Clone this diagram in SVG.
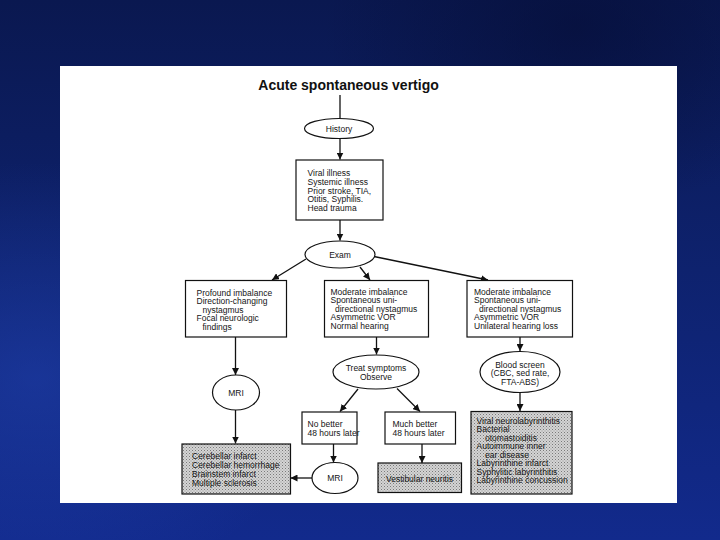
<svg xmlns="http://www.w3.org/2000/svg" width="720" height="540" viewBox="0 0 720 540">
<defs>
<linearGradient id="bg" x1="0" y1="0" x2="0" y2="1">
<stop offset="0" stop-color="#0a1850"/>
<stop offset="0.5" stop-color="#0e226e"/>
<stop offset="1" stop-color="#122a8c"/>
</linearGradient>
<radialGradient id="glow1" cx="0.05" cy="0.7" r="0.4">
<stop offset="0" stop-color="#2244b4" stop-opacity="0.5"/>
<stop offset="1" stop-color="#2244b4" stop-opacity="0"/>
</radialGradient>
<radialGradient id="glow2" cx="0.8" cy="0.05" r="0.35">
<stop offset="0" stop-color="#050d35" stop-opacity="0.6"/>
<stop offset="1" stop-color="#050d35" stop-opacity="0"/>
</radialGradient>
<pattern id="stip" width="3" height="3" patternUnits="userSpaceOnUse">
<rect width="3" height="3" fill="#d4d4d4"/>
<rect x="0" y="0" width="1" height="1" fill="#7a7a7a"/>
<rect x="1.5" y="1.5" width="1" height="1" fill="#959595"/>
</pattern>
<marker id="ah" viewBox="0 0 10 10" refX="10" refY="5" markerWidth="7" markerHeight="7" markerUnits="userSpaceOnUse" orient="auto">
<path d="M0,0 L10,5 L0,10 Z" fill="#111"/>
</marker>
</defs>
<style>
.box{fill:#fff;stroke:#111;stroke-width:1.2}
.sbox{fill:url(#stip);stroke:#111;stroke-width:1.2}
.ell{fill:#fff;stroke:#111;stroke-width:1.2}
.t{font-family:"Liberation Sans",Arial,sans-serif;font-size:8.5px;fill:#151515}
.c{text-anchor:middle}
.ln{stroke:#111;stroke-width:1.3;fill:none}
.ar{stroke:#111;stroke-width:1.3;fill:none;marker-end:url(#ah)}
</style>
<rect width="720" height="540" fill="url(#bg)"/>
<rect width="720" height="540" fill="url(#glow1)"/>
<rect width="720" height="540" fill="url(#glow2)"/>
<rect x="60" y="66" width="617" height="437" fill="#fff"/>

<text x="348.5" y="90" text-anchor="middle" font-family="'Liberation Sans',Arial,sans-serif" font-weight="bold" font-size="14" fill="#111">Acute spontaneous vertigo</text>

<g id="connectors">
<line class="ln" x1="340" y1="95" x2="340" y2="118.5"/>
<line class="ar" x1="340" y1="139" x2="340" y2="159.5"/>
<line class="ar" x1="340" y1="220" x2="340" y2="240.5"/>
<line class="ar" x1="306" y1="259" x2="272" y2="280"/>
<line class="ar" x1="360" y1="267" x2="370" y2="280"/>
<line class="ar" x1="374" y1="256.5" x2="488" y2="280"/>
<line class="ar" x1="235.5" y1="337" x2="235.5" y2="375"/>
<line class="ar" x1="235.5" y1="410" x2="235.5" y2="443.5"/>
<line class="ar" x1="376.5" y1="337" x2="376.5" y2="354.5"/>
<line class="ar" x1="520" y1="337" x2="520" y2="351"/>
<line class="ar" x1="520" y1="393" x2="520" y2="411"/>
<line class="ar" x1="358" y1="389" x2="340" y2="411.5"/>
<line class="ar" x1="397" y1="388.5" x2="420" y2="411.5"/>
<line class="ar" x1="333.5" y1="444" x2="333.5" y2="462.5"/>
<line class="ar" x1="422" y1="444" x2="422" y2="463"/>
<line class="ar" x1="312" y1="478" x2="290.5" y2="478"/>
</g>

<g id="history">
<ellipse class="ell" cx="339" cy="128.5" rx="34.5" ry="10"/>
<text class="t c" x="339" y="131.5">History</text>
</g>

<g id="causes">
<rect class="box" x="296" y="160" width="87" height="60"/>
<text class="t" x="307.5" y="176.3">Viral illness</text>
<text class="t" x="307.5" y="184.9">Systemic illness</text>
<text class="t" x="307.5" y="193.5">Prior stroke, TIA,</text>
<text class="t" x="307.5" y="202.1">Otitis, Syphilis.</text>
<text class="t" x="307.5" y="210.7">Head trauma</text>
</g>

<g id="exam">
<ellipse class="ell" cx="340" cy="254.5" rx="35" ry="13.5"/>
<text class="t c" x="340" y="257.5">Exam</text>
</g>

<g id="profound">
<rect class="box" x="185.5" y="280.5" width="101" height="56.5"/>
<text class="t" x="196.5" y="295.5">Profound imbalance</text>
<text class="t" x="196.5" y="304.1">Direction-changing</text>
<text class="t" x="202.5" y="312.7">nystagmus</text>
<text class="t" x="196.5" y="321.3">Focal neurologic</text>
<text class="t" x="202.5" y="329.9">findings</text>
</g>

<g id="moderate-normal">
<rect class="box" x="324.5" y="280.5" width="104" height="56.5"/>
<text class="t" x="330.5" y="294.5">Moderate imbalance</text>
<text class="t" x="330.5" y="303.1">Spontaneous uni-</text>
<text class="t" x="335" y="311.7">directional nystagmus</text>
<text class="t" x="330.5" y="320.3">Asymmetric VOR</text>
<text class="t" x="330.5" y="328.9">Normal hearing</text>
</g>

<g id="moderate-loss">
<rect class="box" x="467" y="280.5" width="105.5" height="56.5"/>
<text class="t" x="474" y="294.5">Moderate imbalance</text>
<text class="t" x="474" y="303.1">Spontaneous uni-</text>
<text class="t" x="479" y="311.7">directional nystagmus</text>
<text class="t" x="474" y="320.3">Asymmetric VOR</text>
<text class="t" x="474" y="328.9">Unilateral hearing loss</text>
</g>

<g id="mri1">
<ellipse class="ell" cx="236" cy="392.5" rx="23.5" ry="17.5"/>
<text class="t c" x="236" y="395.5">MRI</text>
</g>

<g id="treat">
<ellipse class="ell" cx="376" cy="372" rx="43" ry="17"/>
<text class="t c" x="376" y="371">Treat symptoms</text>
<text class="t c" x="376" y="379.6">Observe</text>
</g>

<g id="blood">
<ellipse class="ell" cx="520" cy="372" rx="40" ry="20.5"/>
<text class="t c" x="520" y="367.5">Blood screen</text>
<text class="t c" x="520" y="376.1">(CBC, sed rate,</text>
<text class="t c" x="520" y="384.7">FTA-ABS)</text>
</g>

<g id="central">
<rect class="sbox" x="182" y="444" width="108.5" height="50"/>
<text class="t" x="192" y="459.3">Cerebellar infarct</text>
<text class="t" x="192" y="467.9">Cerebellar hemorrhage</text>
<text class="t" x="192" y="476.5">Brainstem infarct</text>
<text class="t" x="192" y="485.5">Multiple sclerosis</text>
</g>

<g id="nobetter">
<rect class="box" x="302" y="412" width="55" height="32"/>
<text class="t" x="307.5" y="427">No better</text>
<text class="t" x="307.5" y="435.5">48 hours later</text>
</g>

<g id="muchbetter">
<rect class="box" x="385" y="412" width="70.5" height="32"/>
<text class="t" x="392.5" y="427">Much better</text>
<text class="t" x="392.5" y="435.5">48 hours later</text>
</g>

<g id="mri2">
<ellipse class="ell" cx="335" cy="478" rx="23" ry="15.5"/>
<text class="t c" x="335" y="481">MRI</text>
</g>

<g id="vestibular">
<rect class="sbox" x="378" y="463" width="83.5" height="29.5"/>
<text class="t c" x="419.5" y="481.5">Vestibular neuritis</text>
</g>

<g id="peripheral">
<rect class="sbox" x="471" y="411.5" width="101" height="82.5"/>
<text class="t" x="476.5" y="423.7">Viral neurolabyrinthitis</text>
<text class="t" x="476.5" y="432.2">Bacterial</text>
<text class="t" x="485" y="440.7">otomastoiditis</text>
<text class="t" x="476.5" y="449.2">Autoimmune inner</text>
<text class="t" x="485" y="457.7">ear disease</text>
<text class="t" x="476.5" y="466.2">Labyrinthine infarct</text>
<text class="t" x="476.5" y="474.7">Syphylitic labyrinthitis</text>
<text class="t" x="476.5" y="483.2">Labyrinthine concussion</text>
</g>
</svg>
